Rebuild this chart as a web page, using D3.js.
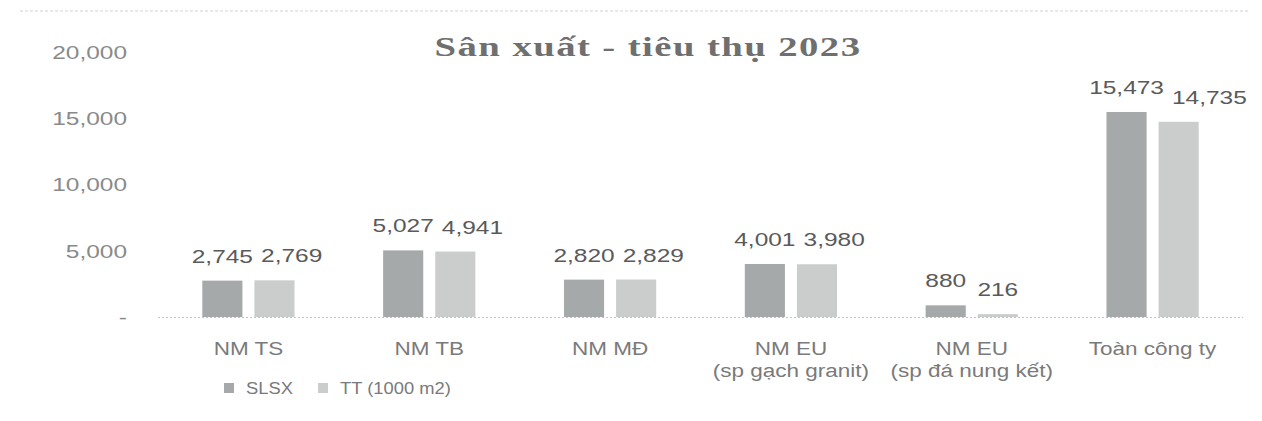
<!DOCTYPE html>
<html>
<head>
<meta charset="utf-8">
<script src="https://cdn.jsdelivr.net/npm/d3@7"></script>
<style>
  html, body { margin: 0; padding: 0; background: #fff; }
  svg { display: block; }
</style>
</head>
<body>
<svg id="chart" width="1262" height="421"></svg>
<script>
// ---- data ----
const categories = ["NM TS", "NM TB", "NM MĐ", "NM EU\n(sp gạch granit)", "NM EU\n(sp đá nung kết)", "Toàn công ty"];
const seriesNames = ["SLSX", "TT (1000 m2)"];
const slsxValues = [2745, 5027, 2820, 4001, 880, 15473];
const ttValues = [2769, 4941, 2829, 3980, 216, 14735];
const yTickValues = [0, 5000, 10000, 15000, 20000];
const titleText = "Sân xuất - tiêu thụ 2023";

// ---- layout / style ----
const plot = { left: 158, right: 1243, top: 52, bottom: 317 };
const colors = ["#a6a9a9", "#cbcdcd"];
const sxNum = 1.36, sxCat = 1.25, sxLeg = 1.08;

const svg = d3.select("#chart");
const series = [slsxValues, ttValues];
const rows = categories.map((c, i) => ({ cat: c, vals: seriesNames.map((s, j) => ({ s, v: series[j][i] })) }));

const y = d3.scaleLinear().domain([0, 20000]).range([plot.bottom, plot.top]);
const x0 = d3.scaleBand().domain(categories).range([plot.left, plot.right]).paddingInner(0.49).paddingOuter(0.245);
const x1 = d3.scaleBand().domain(seriesNames).range([0, x0.bandwidth()]).paddingInner(0.23);
const color = d3.scaleOrdinal().domain(seriesNames).range(colors);
const fmt = d => d === 0 ? "-" : d3.format(",")(d);

// scan artifact line on top
svg.append("line").attr("x1", 20).attr("x2", 1250).attr("y1", 11).attr("y2", 11)
  .attr("stroke", "#d2d2d2").attr("stroke-width", 1.2).attr("stroke-dasharray", "3,2");

// title
const title = svg.append("text")
  .attr("text-anchor", "middle")
  .attr("font-family", "'Liberation Serif', 'DejaVu Serif', serif")
  .attr("font-weight", "bold").attr("font-size", 27).attr("letter-spacing", 1)
  .attr("fill", "#6f6f6f").text(titleText);
const tw = title.node().getComputedTextLength();
title.attr("transform", `translate(648,56) scale(${427 / tw},1)`);

// y axis
const yAxis = svg.append("g").attr("transform", `translate(127,0)`)
  .call(d3.axisLeft(y).tickValues(yTickValues).tickFormat(fmt).tickSize(0).tickPadding(0));
yAxis.select(".domain").remove();
yAxis.selectAll("text")
  .attr("x", 0).attr("dy", "0.36em")
  .attr("transform", `scale(${sxNum},1)`)
  .attr("font-family", "'Liberation Sans', Arial, sans-serif")
  .attr("font-size", 18).attr("fill", "#8a8a8a");

// baseline
svg.append("line").attr("x1", plot.left).attr("x2", plot.right)
  .attr("y1", plot.bottom + 0.5).attr("y2", plot.bottom + 0.5)
  .attr("stroke", "#c4c4c4").attr("stroke-width", 1).attr("stroke-dasharray", "2,2");

// bars
const groups = svg.append("g").selectAll("g").data(rows).join("g")
  .attr("transform", d => `translate(${x0(d.cat)},0)`);
groups.selectAll("rect").data(d => d.vals).join("rect")
  .attr("x", d => x1(d.s)).attr("width", x1.bandwidth())
  .attr("y", d => y(d.v)).attr("height", d => y(0) - y(d.v))
  .attr("fill", d => color(d.s));

// data labels (second label nudged right when it would collide with the first)
const labelGap = 8;
groups.each(function (row) {
  const g = d3.select(this);
  let prevRight = -Infinity, prevTop = null;
  row.vals.forEach((d, i) => {
    const t = g.append("text")
      .attr("text-anchor", "middle")
      .attr("font-family", "'Liberation Sans', Arial, sans-serif")
      .attr("font-size", 18).attr("fill", "#5a5a5a")
      .text(fmt(d.v));
    const w = t.node().getComputedTextLength() * sxNum;
    let cx = x1(d.s) + x1.bandwidth() / 2;
    const by = y(d.v) - 18;
    if (i > 0 && Math.abs(by - prevTop) < 16 && cx - w / 2 < prevRight + labelGap) {
      cx = prevRight + labelGap + w / 2;
    }
    t.attr("transform", `translate(${cx},${by}) scale(${sxNum},1)`);
    prevRight = cx + w / 2;
    prevTop = by;
  });
});

// x axis
const xAxis = svg.append("g").attr("transform", `translate(0,${plot.bottom})`)
  .call(d3.axisBottom(x0).tickSize(0).tickPadding(0));
xAxis.select(".domain").remove();
xAxis.selectAll("text").each(function (d) {
  const t = d3.select(this);
  t.text(null).attr("y", 0).attr("dy", null)
    .attr("transform", `scale(${sxCat},1)`)
    .attr("font-family", "'Liberation Sans', Arial, sans-serif")
    .attr("font-size", 18).attr("fill", "#7a7a7a");
  d.split("\n").forEach((line, i) => {
    t.append("tspan").attr("x", 0).attr("y", 38 + i * 22).text(line);
  });
});

// legend
const legend = svg.append("g").attr("transform", `translate(224,388)`);
const legX = [0, 94];
seriesNames.forEach((s, i) => {
  const g = legend.append("g").attr("transform", `translate(${legX[i]},0)`);
  g.append("rect").attr("x", 0).attr("y", -5).attr("width", 10).attr("height", 10).attr("fill", color(s));
  g.append("text").attr("transform", `translate(22,0) scale(${sxLeg},1)`)
    .attr("dy", "0.36em")
    .attr("font-family", "'Liberation Sans', Arial, sans-serif")
    .attr("font-size", 17).attr("fill", "#7a7a7a").text(s);
});
</script>
</body>
</html>
